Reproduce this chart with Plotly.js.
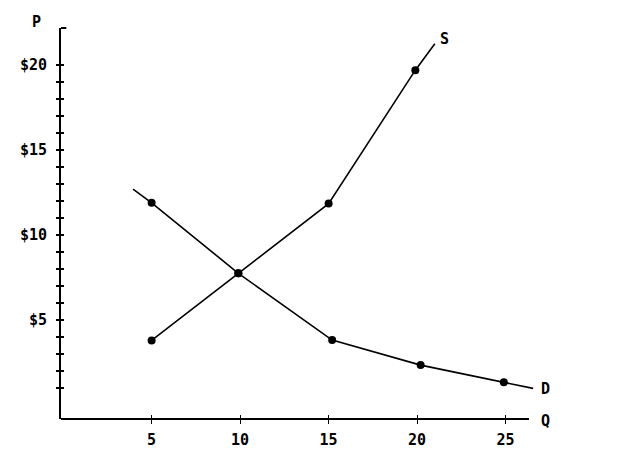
<!DOCTYPE html>
<html>
<head>
<meta charset="utf-8">
<script src="https://cdn.plot.ly/plotly-3.0.1.min.js"></script>
<style>html,body{margin:0;padding:0;background:#fff;}#chart{width:640px;height:455px;}</style>
</head>
<body>
<div id="chart"></div>
<script>
// ---- data ----
const supplyQ = [5, 9.9, 15, 19.9];
const supplyP = [3.8, 7.75, 11.85, 19.7];
const supplyTailQ = [21.0];
const supplyTailP = [21.25];

const demandQ = [5, 9.9, 15.2, 20.2, 24.9];
const demandP = [11.9, 7.75, 3.82, 2.35, 1.34];
const demandHeadQ = [3.95];
const demandHeadP = [12.7];
const demandTailQ = [26.55];
const demandTailP = [0.98];

const xTickVals = [5, 10, 15, 20, 25];
const xTickText = ['5', '10', '15', '20', '25'];
const yTickVals = [1,2,3,4,5,6,7,8,9,10,11,12,13,14,15,16,17,18,19,20];
const yTickText = ['','','','','$5','','','','','$10','','','','','$15','','','','','$20'];

// ---- layout constants ----
const XR = [-0.12, 27];
const YR = [-0.82, 22.18];
const XAXIS_END = 26.32;
const FONT = {family: 'DejaVu Sans Mono, monospace', size: 15, color: '#000', weight: 'bold'};
const black = '#000';

const traces = [
  {x: supplyQ.concat(supplyTailQ), y: supplyP.concat(supplyTailP), mode: 'lines',
   line: {color: black, width: 1.6}, hoverinfo: 'skip'},
  {x: demandHeadQ.concat(demandQ, demandTailQ), y: demandHeadP.concat(demandP, demandTailP), mode: 'lines',
   line: {color: black, width: 1.6}, hoverinfo: 'skip'},
  {x: supplyQ, y: supplyP, mode: 'markers', marker: {color: black, size: 8}, cliponaxis: false},
  {x: demandQ, y: demandP, mode: 'markers', marker: {color: black, size: 8}, cliponaxis: false},
  // dummy trace to activate overlay axes (inner tick halves)
  {x: [XR[0]], y: [YR[0]], xaxis: 'x2', yaxis: 'y2', mode: 'markers', marker: {size: 0, opacity: 0}, hoverinfo: 'skip'}
];

const layout = {
  width: 640, height: 455,
  margin: {l: 61, r: 99, t: 28, b: 36},
  paper_bgcolor: '#fff', plot_bgcolor: '#fff',
  showlegend: false,
  font: FONT,
  xaxis: {range: XR, showgrid: false, zeroline: false, showline: false,
          tickmode: 'array', tickvals: xTickVals, ticktext: xTickText,
          ticks: 'outside', ticklen: 4, tickwidth: 1, tickcolor: black,
          tickfont: FONT, ticklabelstandoff: 3, fixedrange: true},
  xaxis2: {range: XR, overlaying: 'x', anchor: 'y2', side: 'bottom', showgrid: false, zeroline: false,
           showline: false, tickmode: 'array', tickvals: xTickVals,
           ticks: 'inside', ticklen: 4, tickwidth: 1, tickcolor: black, showticklabels: false},
  yaxis: {range: YR, showgrid: false, zeroline: false, showline: true, linewidth: 2, linecolor: black,
          tickmode: 'array', tickvals: yTickVals, ticktext: yTickText,
          ticks: 'outside', ticklen: 3, tickwidth: 2, tickcolor: black,
          tickfont: FONT, ticklabelstandoff: 6, fixedrange: true},
  yaxis2: {range: YR, overlaying: 'y', anchor: 'x2', side: 'left', showgrid: false, zeroline: false,
           showline: false, tickmode: 'array', tickvals: yTickVals,
           ticks: 'inside', ticklen: 3, tickwidth: 2, tickcolor: black, showticklabels: false},
  shapes: [
    {type: 'line', xref: 'x', yref: 'paper', x0: XR[0], x1: XAXIS_END, y0: 0, y1: 0,
     line: {color: black, width: 2}},
    {type: 'line', xref: 'x', yref: 'paper', x0: XR[0] - 0.3, x1: XR[0] + 0.3, y0: 1, y1: 1,
     line: {color: black, width: 2}}
  ],
  annotations: [
    {text: 'S', x: 21.52, y: 21.53, xref: 'x', yref: 'y', showarrow: false, font: FONT, xanchor: 'center', yanchor: 'middle'},
    {text: 'D', x: 1.0094, y: 0.0767, xref: 'paper', yref: 'paper', showarrow: false, font: FONT, xanchor: 'center', yanchor: 'middle'},
    {text: 'Q', x: 1.0104, y: -0.0051, xref: 'paper', yref: 'paper', showarrow: false, font: FONT, xanchor: 'center', yanchor: 'middle'},
    {text: 'P', x: -0.051, y: 1.0141, xref: 'paper', yref: 'paper', showarrow: false, font: FONT, xanchor: 'center', yanchor: 'middle'}
  ]
};

Plotly.newPlot('chart', traces, layout, {staticPlot: true, displayModeBar: false});
</script>
</body>
</html>
